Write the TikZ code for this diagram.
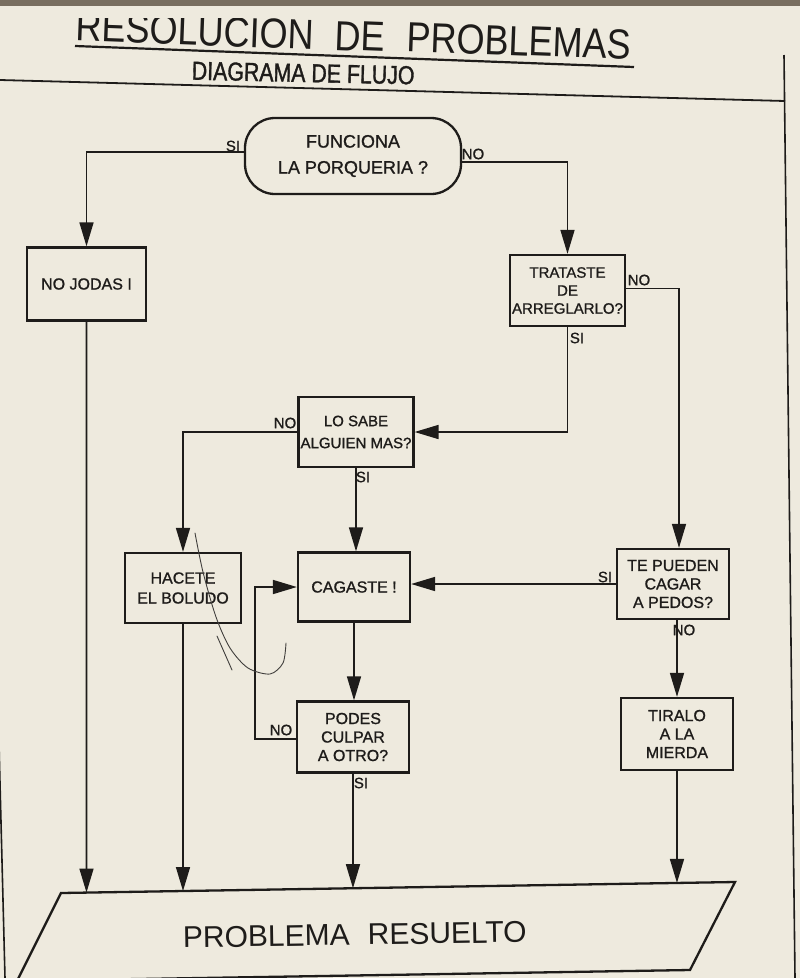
\documentclass[tikz,border=0pt]{standalone}
\usepackage{fontspec}
\setmainfont{Liberation Sans}
\newfontfamily\titlefam[FakeStretch=0.86]{Liberation Sans}
\newfontfamily\subfam[FakeStretch=0.82,FakeBold=1.3]{Liberation Sans}
\newfontfamily\boxfam[FakeBold=1.1]{Liberation Sans}
\usetikzlibrary{arrows.meta,calc}
\definecolor{paper}{RGB}{238,234,222}
\definecolor{ink}{RGB}{30,28,26}
\definecolor{edgeband}{RGB}{120,110,96}
\begin{document}
\begin{tikzpicture}[x=1pt,y=-1pt,
  boxnode/.style={draw=ink, line width=2.3pt, align=center, inner sep=2pt,
    text=ink, font=\boxfam\fontsize{16}{18.5}\selectfont},
  stadium/.style={boxnode, rounded corners=30pt, minimum width=216pt,
    minimum height=76pt, font=\boxfam\fontsize{18}{26}\selectfont},
  flow/.style={draw=ink, line width=1.6pt, -{Triangle[length=24pt,width=14pt]}},
  lab/.style={text=ink, inner sep=1pt, font=\boxfam\fontsize{15}{16}\selectfont},
  titleword/.style={anchor=base, rotate=-2.15, text=ink, inner sep=0pt,
    font=\titlefam\fontsize{42}{44}\selectfont},
  pen/.style={draw=ink!85, line width=0.9pt, line cap=round}
]
\useasboundingbox (0,0) rectangle (800,978);
\fill[paper] (0,0) rectangle (800,978);
\fill[edgeband] (0,0) rectangle (800,6);

% ---- header ----
\begin{scope}
  \clip (0,18) rectangle (800,120);
  \node[titleword, anchor=base west] (t1) at (75,40.5) {RESOLUCION};
  \node[titleword, anchor=base west] (t2) at (334,50) {DE};
  \node[titleword, anchor=base west] (t3) at (406,51.3) {PROBLEMAS};
\end{scope}
\draw[ink, line width=2.2pt] (75,46) -- (634,67);
\node[anchor=base, rotate=-1.2, text=ink, inner sep=0pt,
      font=\subfam\fontsize{26}{28}\selectfont] (sub) at (303,82) {DIAGRAMA DE FLUJO};
\draw[ink, line width=1.8pt] (0,80) -- (785,101);
\draw[ink, line width=1.6pt] (784,55) -- (795,978);
\draw[ink, line width=1.6pt] (-18,80) -- (5,978);

% ---- nodes ----
\node[stadium] (f) at (353,156) {FUNCIONA\\LA PORQUERIA ?};
\node[boxnode, minimum width=119pt, minimum height=73pt] (nj) at (86.5,284) {NO JODAS I};
\node[boxnode, minimum width=115pt, minimum height=71pt,
      font=\boxfam\fontsize{15}{18}\selectfont] (tr) at (567.5,290.5) {TRATASTE\\DE\\ARREGLARLO?};
\node[boxnode, minimum width=114pt, minimum height=70pt,
      font=\boxfam\fontsize{15}{22}\selectfont] (ls) at (356,432) {LO SABE\\ALGUIEN MAS?};
\node[boxnode, minimum width=116pt, minimum height=70pt,
      font=\boxfam\fontsize{16}{20}\selectfont] (hb) at (183,588) {HACETE\\EL BOLUDO};
\node[boxnode, minimum width=112pt, minimum height=69pt] (cg) at (354,587) {CAGASTE !};
\node[boxnode, minimum width=112pt, minimum height=70pt] (tp) at (673,584) {TE PUEDEN\\CAGAR\\A PEDOS?};
\node[boxnode, minimum width=112pt, minimum height=71pt] (pc) at (353,737) {PODES\\CULPAR\\A OTRO?};
\node[boxnode, minimum width=112pt, minimum height=72pt] (tl) at (677,734) {TIRALO\\A LA\\MIERDA};

% parallelogram
\coordinate (pTL) at (61,893);
\coordinate (pTR) at (735,882);
\coordinate (pBR) at (690,970);
\coordinate (pBL) at (17,981);
\draw[ink, line width=2.3pt, line join=miter] (pBL) -- (pTL) -- (pTR) -- (pBR) -- cycle;
\node[anchor=base, rotate=0.9, text=ink, inner sep=0pt,
      font=\fontsize{30}{31}\selectfont] (pr) at (355,945) {PROBLEMA\hspace{18pt}RESUELTO};

% ---- labels ----
\node[lab] (l1) at (233,146) {SI};
\node[lab] (l2) at (473,154) {NO};
\node[lab] (l3) at (639,280) {NO};
\node[lab] (l4) at (577,338) {SI};
\node[lab] (l5) at (285,423) {NO};
\node[lab] (l6) at (363,477) {SI};
\node[lab] (l7) at (605,577) {SI};
\node[lab] (l8) at (684,630) {NO};
\node[lab] (l9) at (281,730) {NO};
\node[lab] (l10) at (361,783) {SI};

% ---- connectors ----
\draw[flow] ([yshift=4pt]f.west) -| (nj.north);
\draw[flow] ([yshift=-6pt]f.east) -| (tr.north);
\draw[flow] ([yshift=2pt]tr.east) -| ([xshift=6pt]tp.north);
\draw[flow] (tr.south) |- (ls.east);
\draw[flow] (ls.west) -| (hb.north);
\draw[flow] (ls.south) -- (ls.south |- cg.north);
\draw[flow] (tp.west) -- (tp.west -| cg.east);
\draw[flow] ([xshift=4pt]tp.south) -- ([xshift=4pt]tp.south |- tl.north);
\draw[flow] (cg.south) -- (cg.south |- pc.north);
\draw[flow] ([yshift=-2pt]pc.west) -- ++(-41pt,0) |- (cg.west);
\draw[flow] (nj.south) -- (intersection of nj.north--nj.south and pTL--pTR);
\draw[flow] (hb.south) -- (intersection of hb.north--hb.south and pTL--pTR);
\draw[flow] (pc.south) -- (intersection of pc.north--pc.south and pTL--pTR);
\draw[flow] (tl.south) -- (intersection of tl.north--tl.south and pTL--pTR);

% ---- pen scrawl ----
\draw[pen] plot[smooth] coordinates {(195,533) (203,572) (216,617) (230,648) (248,668) (270,674) (283,663) (286,643)};
\draw[pen] (217,636) -- (232,670);
\end{tikzpicture}
\end{document}
